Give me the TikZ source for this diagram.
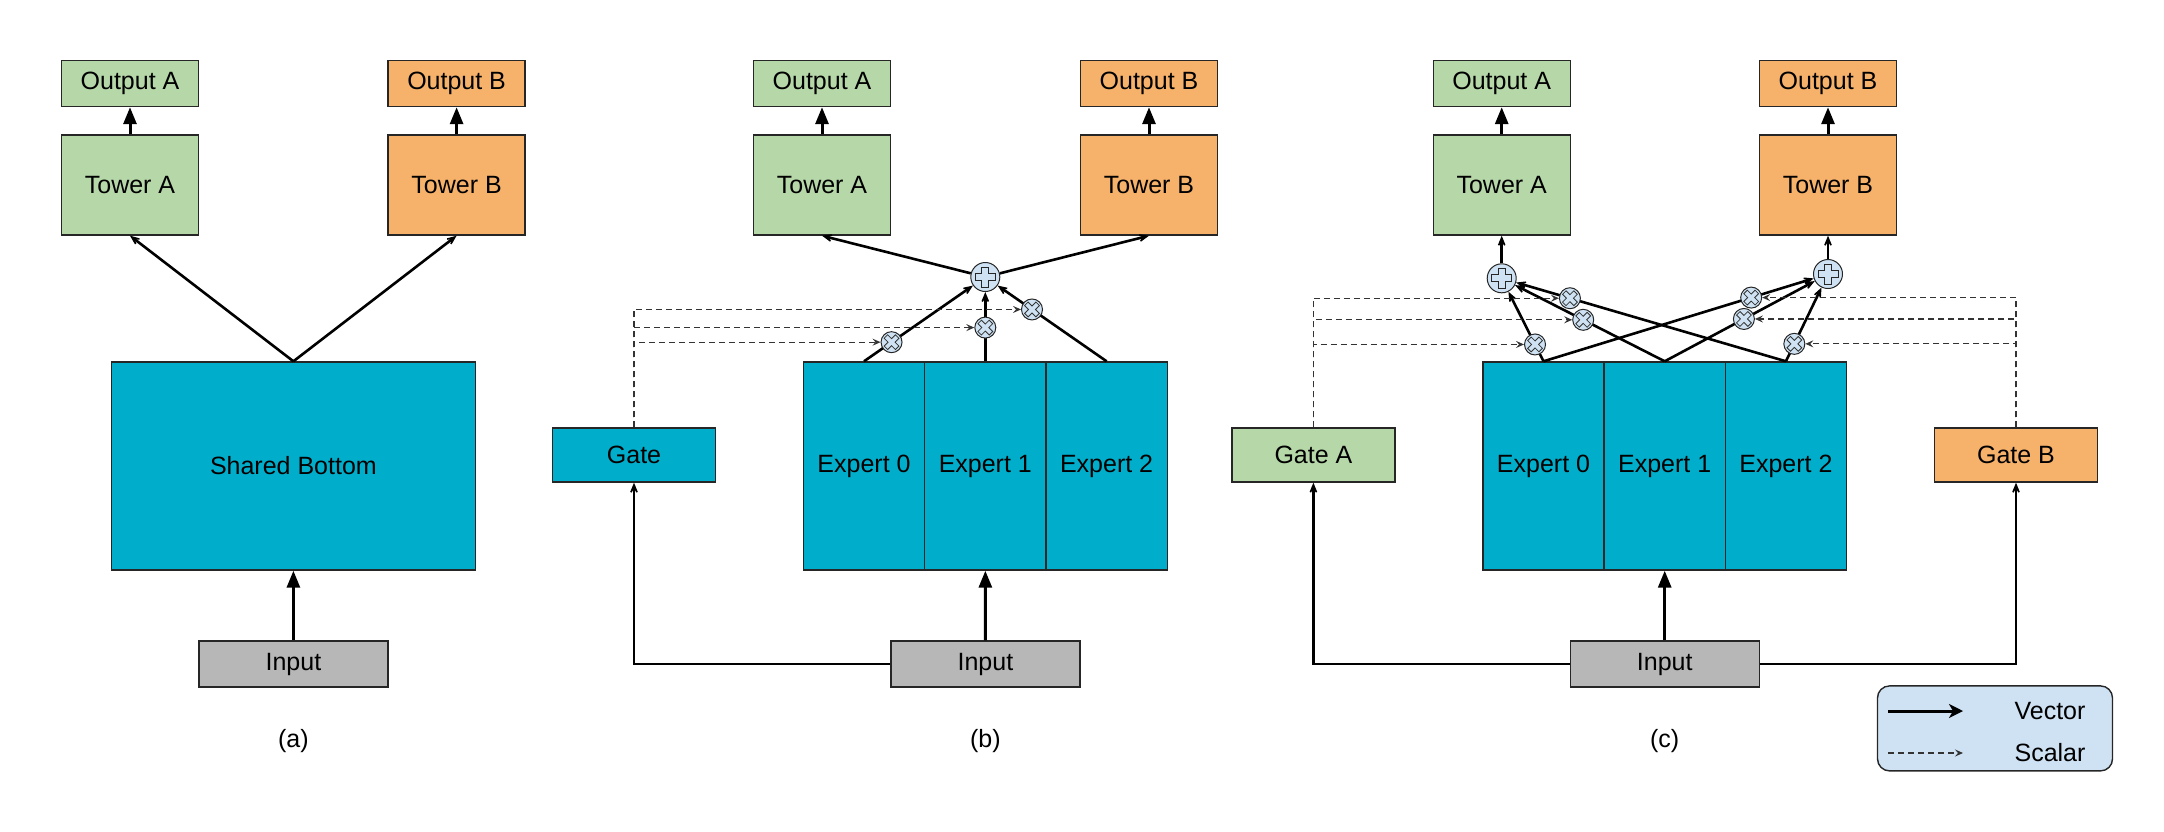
\documentclass[tikz,border=0pt]{standalone}
\usepackage{fontspec}
\setmainfont{Liberation Sans}
\usetikzlibrary{arrows.meta,calc}
\definecolor{tgreen}{HTML}{B6D7A8}
\definecolor{torange}{HTML}{F6B26B}
\definecolor{expcyan}{HTML}{00AECB}
\definecolor{ingrey}{HTML}{B7B7B7}
\definecolor{lblue}{HTML}{CFE2F3}

\begin{document}
\begin{tikzpicture}[x=1pt, y=-1pt, font=\fontsize{25}{30}\selectfont,
	box/.style={draw=black!85, line width=1.4pt, inner sep=0pt},
	outbox/.style={box, minimum width=137pt, minimum height=46pt},
	towbox/.style={box, minimum width=137pt, minimum height=100pt},
	expbox/.style={box, fill=expcyan, minimum width=121.3pt, minimum height=208pt},
	inbox/.style={box, fill=ingrey, minimum width=189pt, minimum height=46pt},
	gatebox/.style={box, minimum width=163pt, minimum height=54pt},
	tri/.style={line width=3pt, -{Triangle[length=17pt,width=13pt]}},
	vec/.style={line width=2.6pt, -{Stealth[length=17pt,width=14pt,inset=11pt]}},
	sca/.style={draw=black!80, line width=1.2pt, dash pattern=on 6pt off 4pt, -{Stealth[length=8pt,width=7pt,inset=3pt]}},
	addnode/.style={circle, draw=black!85, fill=lblue, line width=1pt, minimum size=29pt, inner sep=0pt,
	  path picture={\draw[line width=1pt, shift={(path picture bounding box.center)}]
	  (-3.5,-10) -- (3.5,-10) -- (3.5,-3.5) -- (10,-3.5) -- (10,3.5) -- (3.5,3.5) -- (3.5,10)
	  -- (-3.5,10) -- (-3.5,3.5) -- (-10,3.5) -- (-10,-3.5) -- (-3.5,-3.5) -- cycle;}},
	mulnode/.style={circle, draw=black!85, fill=lblue, line width=1pt, minimum size=21pt, inner sep=0pt,
	  path picture={\draw[line width=0.8pt, black!80, shift={(path picture bounding box.center)}]
	  (3.9,-7.4) -- (7.4,-3.9) -- (3.5,0) -- (7.4,3.9) -- (3.9,7.4) -- (0,3.5) -- (-3.9,7.4)
	  -- (-7.4,3.9) -- (-3.5,0) -- (-7.4,-3.9) -- (-3.9,-7.4) -- (0,-3.5) -- cycle;}}]
	\useasboundingbox (0,0) rectangle (2164,831);

	\node[outbox, fill=tgreen] (outA1) at (130,83.5) {Output A};
	\node[towbox, fill=tgreen] (towA1) at (130,185) {Tower A};
	\node[outbox, fill=torange] (outB1) at (456.6,83.5) {Output B};
	\node[towbox, fill=torange] (towB1) at (456.6,185) {Tower B};
	\node[box, fill=expcyan, minimum width=364pt, minimum height=208pt] (shb) at (293.4,466) {Shared Bottom};
	\node[inbox] (in1) at (293.4,664) {Input};
	\node (lab1) at (293.4,741) {(a)};
	\draw[tri] (towA1) -- (outA1);
	\draw[tri] (towB1) -- (outB1);
	\draw[tri] (in1) -- (shb);
	\draw[vec] (shb.north) -- (towA1.south);
	\draw[vec] (shb.north) -- (towB1.south);

	\node[outbox, fill=tgreen] (outA2) at (822,83.5) {Output A};
	\node[towbox, fill=tgreen] (towA2) at (822,185) {Tower A};
	\node[outbox, fill=torange] (outB2) at (1149,83.5) {Output B};
	\node[towbox, fill=torange] (towB2) at (1149,185) {Tower B};
	\node[expbox] (e02) at (864,466) {Expert 0};
	\node[expbox] (e12) at (985.3,466) {Expert 1};
	\node[expbox] (e22) at (1106.6,466) {Expert 2};
	\node[addnode] (add2) at (985.3,277) {};
	\node[gatebox, fill=expcyan] (gate2) at (634,455) {Gate};
	\node[inbox] (in2) at (985.4,664) {Input};
	\node (lab2) at (985.4,741) {(b)};
	\draw[tri] (towA2) -- (outA2);
	\draw[tri] (towB2) -- (outB2);
	\draw[tri] (in2) -- (e12);
	\draw[vec] (in2.west) -| (gate2.south);
	\draw[vec] (add2) -- (towA2.south);
	\draw[vec] (add2) -- (towB2.south);
	\draw[vec] (e02.north) -- (add2);
	\draw[vec] (e12.north) -- (add2);
	\draw[vec] (e22.north) -- (add2);
	\node[mulnode] (m02) at ($(e02.north)!0.227!(add2)$) {};
	\node[mulnode] (m12) at ($(e12.north)!0.40!(add2)$) {};
	\node[mulnode] (m22) at ($(e22.north)!0.615!(add2)$) {};
	\draw[sca] (gate2.north) |- (m02.west);
	\draw[sca] (gate2.north) |- (m12.west);
	\draw[sca] (gate2.north) |- (m22.west);

	\node[outbox, fill=tgreen] (outA3) at (1501.7,83.5) {Output A};
	\node[towbox, fill=tgreen] (towA3) at (1501.7,185) {Tower A};
	\node[outbox, fill=torange] (outB3) at (1828,83.5) {Output B};
	\node[towbox, fill=torange] (towB3) at (1828,185) {Tower B};
	\node[expbox] (e03) at (1543.5,466) {Expert 0};
	\node[expbox] (e13) at (1664.7,466) {Expert 1};
	\node[expbox] (e23) at (1785.9,466) {Expert 2};
	\node[addnode] (addA3) at (1501.7,278.3) {};
	\node[addnode] (addB3) at (1828,274) {};
	\node[gatebox, fill=tgreen] (gateA3) at (1313.4,455) {Gate A};
	\node[gatebox, fill=torange] (gateB3) at (2016,455) {Gate B};
	\node[inbox] (in3) at (1664.7,664) {Input};
	\node (lab3) at (1664.7,741) {(c)};
	\draw[tri] (towA3) -- (outA3);
	\draw[tri] (towB3) -- (outB3);
	\draw[tri] (in3) -- (e13);
	\draw[vec] (in3.west) -| (gateA3.south);
	\draw[vec] (in3.east) -| (gateB3.south);
	\draw[vec] (addA3) -- (towA3.south);
	\draw[vec] (addB3) -- (towB3.south);
	\draw[vec] (e03.north) -- (addA3);
	\draw[vec] (e13.north) -- (addA3);
	\draw[vec] (e23.north) -- (addA3);
	\draw[vec] (e03.north) -- (addB3);
	\draw[vec] (e13.north) -- (addB3);
	\draw[vec] (e23.north) -- (addB3);
	\node[mulnode] (mA03) at ($(e03.north)!0.203!(addA3)$) {};
	\node[mulnode] (mA13) at ($(e13.north)!0.50!(addA3)$) {};
	\node[mulnode] (mA23) at ($(e23.north)!0.76!(addA3)$) {};
	\node[mulnode] (mB03) at ($(e03.north)!0.73!(addB3)$) {};
	\node[mulnode] (mB13) at ($(e13.north)!0.485!(addB3)$) {};
	\node[mulnode] (mB23) at ($(e23.north)!0.20!(addB3)$) {};
	\draw[sca] (gateA3.north) |- (mA03.west);
	\draw[sca] (gateA3.north) |- (mA13.west);
	\draw[sca] (gateA3.north) |- (mA23.west);
	\draw[sca] (gateB3.north) |- (mB03.east);
	\draw[sca] (gateB3.north) |- (mB13.east);
	\draw[sca] (gateB3.north) |- (mB23.east);

	\node[draw=black!85, fill=lblue, line width=1.4pt, rounded corners=12pt, minimum width=235pt, minimum height=85pt] (leg) at (1995,728.4) {};
	\node (vtxt) at (2050,711) {Vector};
	\node (stxt) at (2050,753) {Scalar};
	\coordinate (v1) at (1888,711);
	\coordinate (v2) at (1963,711);
	\coordinate (s1) at (1888,753);
	\coordinate (s2) at (1963,753);
	\draw[line width=3pt, -{Stealth[length=14pt,width=14pt,inset=4pt]}] (v1) -- (v2);
	\draw[sca] (s1) -- (s2);
\end{tikzpicture}
\end{document}
